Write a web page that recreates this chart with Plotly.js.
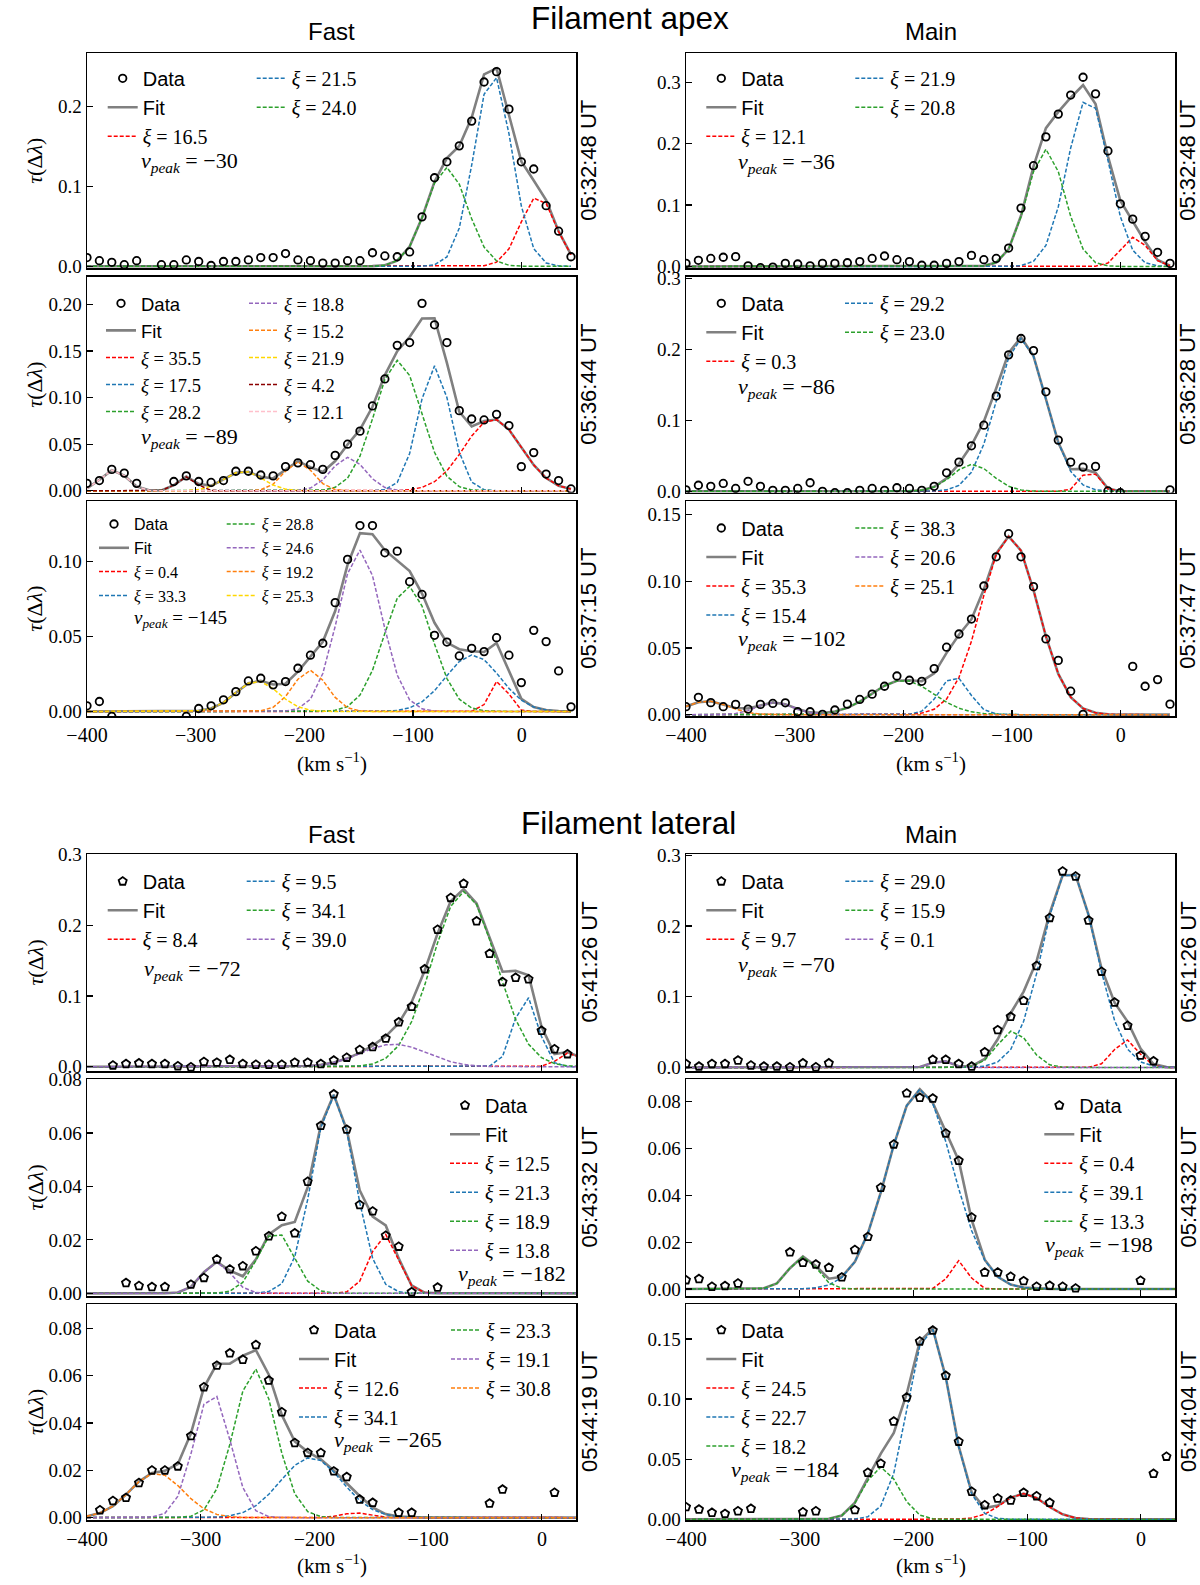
<!DOCTYPE html>
<html>
<head>
<meta charset="utf-8">
<script src="https://cdn.plot.ly/plotly-3.0.1.min.js"></script>
<style>html,body{margin:0;padding:0;background:#fff}#chart{width:1200px;height:1585px}</style>
</head>
<body>
<div id="chart"></div>
<script>
// velocity grid of the spectra (km/s)
const vel = [-400, -388.6, -377.2, -365.7, -354.3, -342.9, -331.5, -320.1, -308.6, -297.2,
  -285.8, -274.4, -263, -251.5, -240.1, -228.7, -217.3, -205.9, -194.4, -183,
  -171.6, -160.2, -148.8, -137.3, -125.9, -114.5, -103.1, -91.7, -80.2, -68.8,
  -57.4, -46, -34.6, -23.1, -11.7, -0.3, 11.1, 22.5, 34, 45.4];

const times = ['05:32:48 UT', '05:36:44 UT', '05:37:15 UT', '05:32:48 UT', '05:36:28 UT', '05:37:47 UT',
  '05:41:26 UT', '05:43:32 UT', '05:44:19 UT', '05:41:26 UT', '05:43:32 UT', '05:44:04 UT'];
const vpeaks = [-30, -89, -145, -36, -86, -102, -72, -182, -265, -70, -198, -184];

// observed optical depth per spectrum (null = not visible)
const tauApexFast1 = [0.011, 0.007, 0.005, 0.002, 0.007, null, 0.002, 0.002, 0.008, 0.006,
  0.001, 0.006, 0.006, 0.008, 0.011, 0.011, 0.016, 0.008, 0.007, 0.004,
  0.004, 0.007, 0.007, 0.017, 0.013, 0.012, 0.018, 0.062, 0.111, 0.131,
  0.151, 0.182, 0.231, 0.244, 0.197, 0.131, 0.122, 0.076, 0.044, 0.012];
const tauApexFast2 = [0.008, 0.011, 0.023, 0.019, 0.008, null, null, 0.010, 0.016, 0.010,
  0.009, 0.011, 0.021, 0.021, 0.017, 0.016, 0.026, 0.030, 0.028, 0.023,
  0.038, 0.050, 0.064, 0.091, 0.120, 0.156, 0.159, 0.201, 0.178, 0.159,
  0.086, 0.077, 0.076, 0.082, 0.070, 0.026, 0.041, 0.018, 0.011, 0.002];
const tauApexFast3 = [0.0038, 0.0067, -0.0033, null, null, null, null, null, -0.0033, 0.002,
  0.0038, 0.0078, 0.0133, 0.0204, 0.0222, 0.0178, 0.020, 0.0289, 0.0376, 0.0456,
  0.0727, 0.1016, 0.1242, 0.1242, 0.106, 0.1071, 0.0867, 0.0782, 0.0509, 0.0464,
  0.0371, 0.0422, 0.040, 0.0493, 0.0376, 0.0193, 0.0542, 0.0467, 0.0271, 0.0031];
const tauApexMain1 = [0.005, 0.010, 0.013, 0.015, 0.016, 0.001, -0.002, -0.001, 0.005, 0.004,
  0.001, 0.005, 0.005, 0.006, 0.008, 0.013, 0.017, 0.011, 0.008, 0.002,
  0.002, 0.005, 0.008, 0.018, 0.011, 0.013, 0.030, 0.095, 0.164, 0.211,
  0.248, 0.279, 0.308, 0.281, 0.188, 0.102, 0.077, 0.049, 0.023, 0.005];
const tauApexMain2 = [0.002, 0.0085, 0.007, 0.011, 0.004, 0.014, 0.007, 0.0014, 0.0014, 0.004,
  0.012, 0, -0.002, -0.002, 0.0014, 0.004, 0.0014, 0.005, 0.004, 0.0014,
  0.007, 0.026, 0.041, 0.064, 0.093, 0.134, 0.192, 0.215, 0.198, 0.14,
  0.072, 0.041, 0.034, 0.035, 0.0005, -0.002, null, null, null, 0.002];
const tauApexMain3 = [0.006, 0.013, 0.009, 0.006, 0.0077, 0.0042, 0.0077, 0.0084, 0.0089, 0.0022,
  0.0022, 0.0002, 0.0035, 0.0079, 0.0114, 0.0154, 0.0213, 0.029, 0.0258, 0.025,
  0.0345, 0.0506, 0.0605, 0.0717, 0.0965, 0.1184, 0.1357, 0.1184, 0.096, 0.0568,
  0.0407, 0.0176, 0.0002, null, null, null, 0.0362, 0.0213, 0.0263, 0.0079];
const tauLatFast1 = [null, null, 0.002, 0.004, 0.005, 0.004, 0.004, 0.001, -0.0005, 0.007,
  0.006, 0.010, 0.004, 0.003, 0.003, 0.003, 0.006, 0.006, 0.004, 0.009,
  0.013, 0.024, 0.028, 0.040, 0.063, 0.085, 0.138, 0.194, 0.239, 0.259,
  0.206, 0.160, 0.120, 0.126, 0.124, 0.051, 0.025, 0.018, null, null];
const tauLatFast2 = [null, null, null, 0.0039, 0.0028, 0.0024, 0.0024, null, 0.0033, 0.0058,
  0.0127, 0.009, 0.0102, 0.0158, 0.0214, 0.0287, 0.0225, 0.0418, 0.0627, 0.0745,
  0.0613, 0.0331, 0.0307, 0.0216, 0.0175, 0.0005, null, 0.0022, null, null,
  null, null, null, null, null, null, null, null, null, null];
const tauLatFast3 = [null, 0.0032, 0.0071, 0.0084, 0.0147, 0.02, 0.02, 0.0217, 0.0345, 0.0552,
  0.0643, 0.0695, 0.0668, 0.073, 0.058, 0.0446, 0.0316, 0.0274, 0.0274, 0.0196,
  0.0172, 0.0077, 0.0063, null, 0.0021, 0.0021, null, null, null, null,
  null, 0.006, 0.0119, null, null, null, 0.0106, null, null, null];
const tauLatMain1 = [0.005, 0.0014, 0.005, 0.005, 0.010, 0.003, 0.0014, 0.0014, 0.0005, 0.006,
  0.0005, 0.006, null, null, null, null, null, null, null, 0.011,
  0.011, 0.005, 0.0014, 0.0216, 0.053, 0.0718, 0.0944, 0.1437, 0.2117, 0.2775,
  0.2704, 0.208, 0.1357, 0.092, 0.0592, 0.0169, 0.0089, null, null, null];
const tauLatMain2 = [0.0038, 0.0043, 0.001, 0.0013, 0.0024, null, null, null, 0.0157, 0.0112,
  0.0105, 0.0091, 0.005, 0.0167, 0.0223, 0.0433, 0.0618, 0.0836, 0.0817, 0.0814,
  0.0665, 0.0548, 0.0306, 0.0071, 0.0071, 0.0053, 0.0034, 0.001, 0.0014, 0.001,
  0.0003, null, null, null, null, 0.0036, null, null, null, null];
const tauLatMain3 = [0.0103, 0.0083, 0.0056, 0.0047, 0.0069, 0.0089, null, null, null, 0.0061,
  0.0069, null, null, 0.0078, 0.0389, 0.0464, 0.0814, 0.1014, 0.148, 0.157,
  0.1194, 0.0647, 0.0231, 0.0119, 0.0175, 0.0158, 0.0222, 0.0194, 0.0139, null,
  null, null, null, null, null, null, 0.038, 0.0522, null, null];

// fitted components: [xi, centre (km/s), peak tau, gaussian width (km/s)]
const compApexFast1 = [[16.5, 15, 0.088, 16], [21.5, -26.5, 0.241, 17.2], [24.0, -69, 0.124, 19]];
const compApexFast2 = [[35.5, -26.6, 0.077, 26.4], [17.5, -80.1, 0.134, 14.8], [28.2, -113.8, 0.140, 21.5],
  [18.8, -159.6, 0.036, 15.6], [15.2, -205.5, 0.031, 13.5], [21.9, -256, 0.021, 17.5],
  [4.2, -308.6, 0.015, 8.6], [12.1, -375.2, 0.0225, 11.8]];
const compApexFast3 = [[0.4, -20.5, 0.0211, 8.1], [33.3, -45, 0.0378, 24.9], [28.8, -104.6, 0.0838, 21.9],
  [24.6, -149, 0.1078, 20], [19.2, -194.8, 0.0276, 15.8], [25.3, -243.7, 0.0204, 19.6]];
const compApexMain1 = [[12.1, 12.8, 0.048, 11.8], [21.9, -30, 0.275, 19], [20.8, -68.8, 0.191, 17.5]];
const compApexMain2 = [[0.3, -28.5, 0.03, 8.1], [29.2, -91.4, 0.215, 22.5], [23.0, -136.6, 0.038, 18.2]];
const compApexMain3 = [[35.3, -102.4, 0.1337, 26.2], [15.4, -153.3, 0.0288, 13.6], [38.3, -200.6, 0.0258, 28.3],
  [20.6, -318, 0.0092, 16.7], [25.1, -380.5, 0.0102, 19.5]];
const compLatFast1 = [[8.4, 25, 0.02, 10.1], [9.5, -14, 0.1, 10.5], [34.1, -68.4, 0.248, 28], [39.0, -130, 0.032, 28.8]];
const compLatFast2 = [[12.5, -138.8, 0.0222, 12.0], [21.3, -183.3, 0.0742, 18.5], [18.9, -234, 0.0231, 15.6],
  [13.8, -286, 0.0117, 12.7]];
const compLatFast3 = [[12.6, -163.7, 0.002, 12.1], [34.1, -203, 0.0254, 27], [23.3, -252.5, 0.0629, 18.4],
  [19.1, -290, 0.053, 16], [30.8, -339, 0.0189, 23.2]];
const compLatMain1 = [[9.7, -13.2, 0.0394, 10.6], [29.0, -63, 0.28, 23.5], [15.9, -112.2, 0.0521, 13.9],
  [0.1, -175.7, 0.0099, 8.1]];
const compLatMain2 = [[0.4, -160, 0.0121, 8.1], [39.1, -194, 0.0853, 28.8], [13.3, -296.9, 0.0138, 12.4]];
const compLatMain3 = [[24.5, -103.3, 0.0214, 19.1], [22.7, -186, 0.16, 18.5], [18.2, -228.3, 0.0436, 15.2]];

const W = 1200, H = 1585;
const SANS = 'Liberation Sans, Arial, sans-serif';
const SERIF = 'Liberation Serif, DejaVu Serif, serif';
const compColors = ['#ff0000', '#1f77b4', '#2ca02c', '#9467bd', '#ff7f0e', '#ffd700', '#8b0000', '#ffc0cb'];

// page geometry in pixels
const colPx = [[87, 576], [686, 1175]];
const rowPx = {
    apex: [[53.3, 268.3], [276.7, 492.7], [501.3, 716]],
    lateral: [[854, 1071], [1079, 1296], [1304, 1520]]
};
const xRange = {apex: [-400, 50], lateral: [-400, 30]};

// leg: [text x col1, text x col2, first row y, font size]; vp: [x, y, anchor]
const panels = [
    {tau: tauApexFast1, comps: compApexFast1, grp: 'apex', col: 0, row: 0, yr: [-0.0025, 0.267], dt: 0.1, fmt: '.1f', split: 1, leg: [142.7, 291.7, 78.3, 20], vp: [139, 161.7, 'left']},
    {tau: tauApexFast2, comps: compApexFast2, grp: 'apex', col: 0, row: 1, yr: [-0.002, 0.2296], dt: 0.05, fmt: '.2f', split: 3, leg: [141, 284, 303.3, 18.5], vp: [139, 438.3, 'left']},
    {tau: tauApexFast3, comps: compApexFast3, grp: 'apex', col: 0, row: 2, yr: [-0.003, 0.1404], dt: 0.05, fmt: '.2f', split: 2, leg: [134, 261.7, 524, 16], vp: [132, 618.7, 'left'], small: true},
    {tau: tauApexMain1, comps: compApexMain1, grp: 'apex', col: 1, row: 0, yr: [-0.003, 0.347], dt: 0.1, fmt: '.1f', split: 1, leg: [741.3, 890.3, 78.3, 20], vp: [736, 163.3, 'left']},
    {tau: tauApexMain2, comps: compApexMain2, grp: 'apex', col: 1, row: 1, yr: [-0.002, 0.302], dt: 0.1, fmt: '.1f', split: 1, leg: [741.3, 880, 303.3, 20], vp: [736, 388.3, 'left']},
    {tau: tauApexMain3, comps: compApexMain3, grp: 'apex', col: 1, row: 2, yr: [-0.001, 0.16], dt: 0.05, fmt: '.2f', split: 2, leg: [741.3, 890.3, 528, 20], vp: [736, 640, 'left']},
    {tau: tauLatFast1, comps: compLatFast1, grp: 'lateral', col: 0, row: 0, yr: [-0.006, 0.301], dt: 0.1, fmt: '.1f', split: 1, leg: [142.7, 281.7, 881.3, 20], vp: [142, 969.7, 'left']},
    {tau: tauLatFast2, comps: compLatFast2, grp: 'lateral', col: 0, row: 1, yr: [-0.001, 0.0802], dt: 0.02, fmt: '.2f', split: 4, leg: [485, null, 1105.3, 20], vp: [568, 1275.3, 'right']},
    {tau: tauLatFast3, comps: compLatFast3, grp: 'lateral', col: 0, row: 2, yr: [-0.001, 0.0903], dt: 0.02, fmt: '.2f', split: 2, leg: [334, 486, 1330, 20], vp: [332, 1440.7, 'left']},
    {tau: tauLatMain1, comps: compLatMain1, grp: 'lateral', col: 1, row: 0, yr: [-0.005, 0.302], dt: 0.1, fmt: '.1f', split: 1, leg: [741.3, 880.3, 881.3, 20], vp: [736, 966.3, 'left']},
    {tau: tauLatMain2, comps: compLatMain2, grp: 'lateral', col: 1, row: 1, yr: [-0.003, 0.0897], dt: 0.02, fmt: '.2f', split: 3, leg: [1079.3, null, 1105.3, 20], vp: [1155, 1246.3, 'right']},
    {tau: tauLatMain3, comps: compLatMain3, grp: 'lateral', col: 1, row: 2, yr: [-0.0005, 0.179], dt: 0.05, fmt: '.2f', split: 3, leg: [741.3, null, 1330, 20], vp: [729, 1470.7, 'left']}
];

function gauss(c, v) {
    return c[2] * Math.exp(-0.5 * Math.pow((v - c[1]) / c[3], 2));
}

function px2x(px) { return px / W; }
function px2y(py) { return 1 - py / H; }

const traces = [];
const annotations = [];
const layout = {
    width: W, height: H,
    margin: {l: 0, r: 0, t: 0, b: 0},
    paper_bgcolor: '#fff', plot_bgcolor: '#fff',
    showlegend: true,
    font: {family: SERIF, color: '#000'},
    annotations: annotations
};

let legCount = 0;
function newLegend(textX, r0, fs) {
    legCount++;
    const key = legCount === 1 ? 'legend' : 'legend' + legCount;
    const h = fs * 1.3 + 3;
    layout[key] = {
        x: px2x(textX - 40), y: px2y(r0 - h / 2 - 5),
        xanchor: 'left', yanchor: 'top',
        bgcolor: 'rgba(0,0,0,0)', borderwidth: 0,
        font: {family: SERIF, size: fs, color: '#000'},
        traceorder: 'normal', itemclick: false, itemdoubleclick: false
    };
    return key;
}

const sansLabel = t => '<span style="font-family:Liberation Sans">' + t + '</span>';

panels.forEach((p, k) => {
    const n = k + 1;
    const sfx = n === 1 ? '' : String(n);
    const [x0, x1] = colPx[p.col];
    const [y0, y1] = rowPx[p.grp][p.row];
    const bottom = p.row === 2;

    layout['xaxis' + sfx] = {
        domain: [px2x(x0), px2x(x1)], anchor: 'y' + sfx, range: xRange[p.grp],
        tickvals: [-400, -300, -200, -100, 0], showticklabels: bottom,
        ticks: 'inside', ticklen: 6, tickwidth: 1.2, tickcolor: '#000',
        showline: true, mirror: true, linecolor: '#000', linewidth: 1.5,
        showgrid: false, zeroline: false, automargin: false,
        tickfont: {family: SERIF, size: 20, color: '#000'}
    };
    layout['yaxis' + sfx] = {
        domain: [px2y(y1), px2y(y0)], anchor: 'x' + sfx, range: p.yr,
        tick0: 0, dtick: p.dt, tickformat: p.fmt,
        ticks: 'inside', ticklen: 6, tickwidth: 1.2, tickcolor: '#000',
        showline: true, mirror: true, linecolor: '#000', linewidth: 1.5,
        showgrid: false, zeroline: false, automargin: false,
        tickfont: {family: SERIF, size: 19, color: '#000'}
    };

    const [t1, t2, r0, fs] = p.leg;
    const leg1 = newLegend(t1, r0, fs);
    const leg2 = t2 ? newLegend(t2, r0, fs) : leg1;

    // model: each component and their sum on the velocity grid
    const fit = vel.map(v => p.comps.reduce((s, c) => s + gauss(c, v), 0));
    traces.push({
        x: vel, y: fit, type: 'scatter', mode: 'lines', name: sansLabel('Fit'),
        xaxis: 'x' + sfx, yaxis: 'y' + sfx, legend: leg1, legendrank: 2,
        line: {color: '#808080', width: 2.6}
    });
    p.comps.forEach((c, i) => {
        traces.push({
            x: vel, y: vel.map(v => gauss(c, v)), type: 'scatter', mode: 'lines',
            name: '<i>ξ</i> = ' + c[0].toFixed(1),
            xaxis: 'x' + sfx, yaxis: 'y' + sfx,
            legend: i < p.split ? leg1 : leg2, legendrank: 3 + i,
            line: {color: compColors[i], width: 1.5, dash: '4px,2px'}
        });
    });
    traces.push({
        x: vel, y: p.tau, type: 'scatter', mode: 'markers', name: sansLabel('Data'),
        xaxis: 'x' + sfx, yaxis: 'y' + sfx, legend: leg1, legendrank: 1,
        marker: {
            symbol: p.grp === 'apex' ? 'circle-open' : 'pentagon-open',
            size: p.grp === 'apex' ? 7.5 : 8.5, color: '#000',
            line: {color: '#000', width: 1.8}
        }
    });

    // v_peak note
    annotations.push({
        xref: 'paper', yref: 'paper', x: px2x(p.vp[0]), y: px2y(p.vp[1]),
        xanchor: p.vp[2], yanchor: 'middle', showarrow: false,
        text: '<i>v</i><sub><i>peak</i></sub> = ' + String(vpeaks[k]).replace('-', '\u2212'),
        font: {family: SERIF, size: p.small ? 19 : 22, color: '#000'}
    });

    // time stamp on the right
    annotations.push({
        xref: 'paper', yref: 'paper', x: px2x(x1 + 13), y: px2y((y0 + y1) / 2),
        xanchor: 'center', yanchor: 'middle', showarrow: false, textangle: -90,
        text: times[k], font: {family: SANS, size: 22, color: '#000'}
    });

    if (p.col === 0) {
        annotations.push({
            xref: 'paper', yref: 'paper', x: px2x(35), y: px2y((y0 + y1) / 2),
            xanchor: 'center', yanchor: 'middle', showarrow: false, textangle: -90,
            text: '<i>τ</i>(Δ<i>λ</i>)', font: {family: SERIF, size: 22, color: '#000'}
        });
    }
    if (bottom) {
        annotations.push({
            xref: 'paper', yref: 'paper', x: px2x((x0 + x1) / 2), y: px2y(p.grp === 'apex' ? 762 : 1564),
            xanchor: 'center', yanchor: 'middle', showarrow: false,
            text: '(km s<sup>\u22121</sup>)', font: {family: SERIF, size: 21, color: '#000'}
        });
    }
});

// group and column headings
[['Filament apex', 630, 18.5, 31.5], ['Filament lateral', 628, 823, 31.5],
 ['Fast', 331.5, 32, 24], ['Main', 930.5, 32, 24],
 ['Fast', 331.5, 834.5, 24], ['Main', 930.5, 834.5, 24]].forEach(t => {
    annotations.push({
        xref: 'paper', yref: 'paper', x: px2x(t[1]), y: px2y(t[2]),
        xanchor: 'center', yanchor: 'middle', showarrow: false,
        text: t[0], font: {family: SANS, size: t[3], color: '#000'}
    });
});

Plotly.newPlot('chart', traces, layout, {staticPlot: true, displayModeBar: false});
</script>
</body>
</html>
